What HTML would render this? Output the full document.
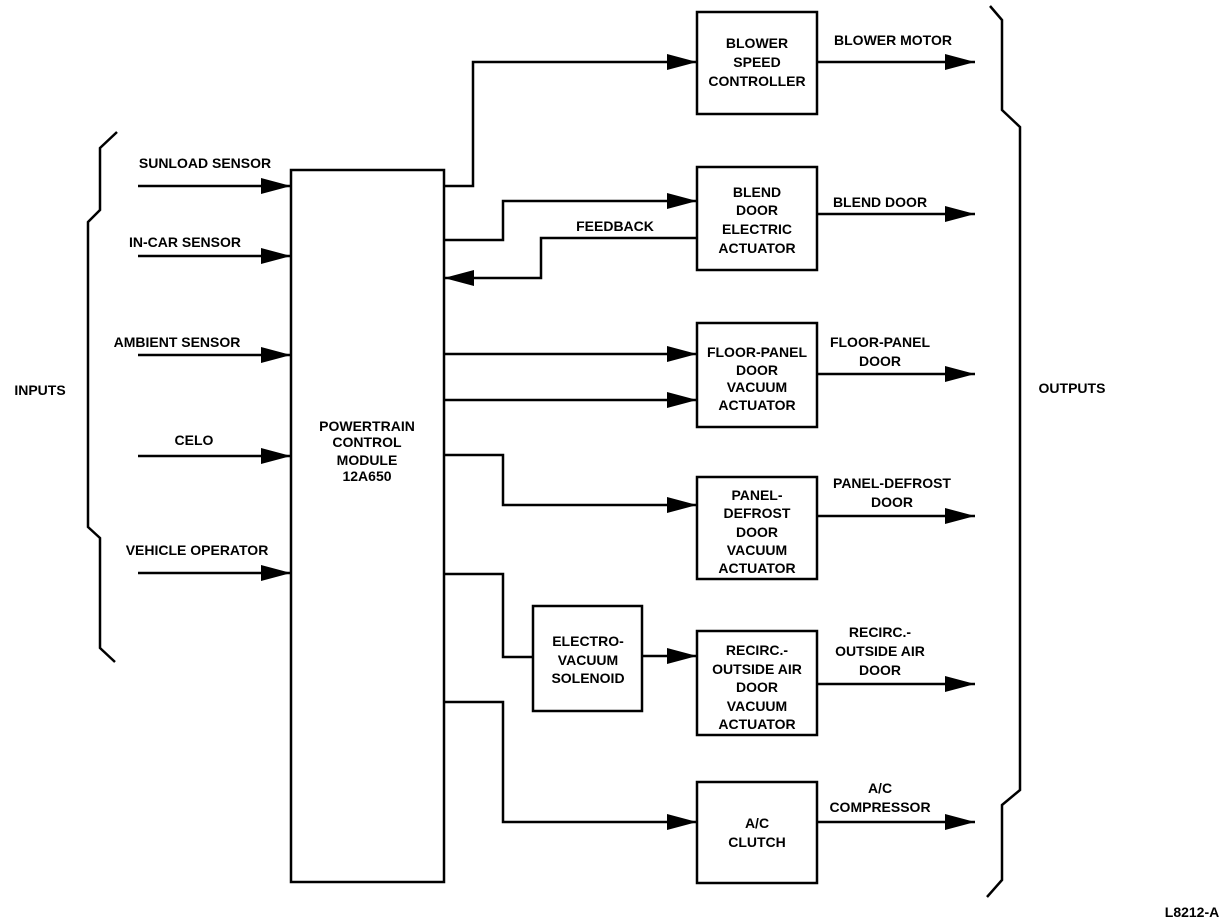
<!DOCTYPE html>
<html><head><meta charset="utf-8"><style>
html,body{margin:0;padding:0;background:#fff}
svg{display:block}
text{font-family:"Liberation Sans",sans-serif;font-size:14px;font-weight:bold;fill:#000;text-anchor:middle}
</style></head><body>
<svg width="1232" height="924" viewBox="0 0 1232 924" xmlns="http://www.w3.org/2000/svg">
<defs>
<marker id="a" markerUnits="userSpaceOnUse" markerWidth="32" markerHeight="20" refX="30" refY="10" orient="auto">
<path d="M0,2 L30,10 L0,18 Z" fill="#000"/>
</marker>
</defs>
<g fill="none" stroke="#000" stroke-width="2.5">
<polyline points="117,132 100,148 100,210 88,222 88,527 100,538 100,648 115,662"/>
<polyline points="990,6 1002,20 1002,110 1020,127 1020,790 1002,805 1002,880 987,897"/>
<rect x="291" y="170" width="153" height="712"/>
<rect x="697" y="12" width="120" height="102"/>
<rect x="697" y="167" width="120" height="103"/>
<rect x="697" y="323" width="120" height="104"/>
<rect x="697" y="477" width="120" height="102"/>
<rect x="697" y="631" width="120" height="104"/>
<rect x="533" y="606" width="109" height="105"/>
<rect x="697" y="782" width="120" height="101"/>
</g>
<g fill="none" stroke="#000" stroke-width="2.5" marker-end="url(#a)">
<line x1="138" y1="186" x2="291" y2="186"/>
<line x1="138" y1="256" x2="291" y2="256"/>
<line x1="138" y1="355" x2="291" y2="355"/>
<line x1="138" y1="456" x2="291" y2="456"/>
<line x1="138" y1="573" x2="291" y2="573"/>
<polyline points="444,186 473,186 473,62 697,62"/>
<polyline points="444,240 503,240 503,201 697,201"/>
<polyline points="697,238 541,238 541,278 444,278"/>
<line x1="444" y1="354" x2="697" y2="354"/>
<line x1="444" y1="400" x2="697" y2="400"/>
<polyline points="444,455 503,455 503,505 697,505"/>
<polyline points="642,656 697,656"/>
<polyline points="444,702 503,702 503,822 697,822"/>
<line x1="817" y1="62" x2="975" y2="62"/>
<line x1="817" y1="214" x2="975" y2="214"/>
<line x1="817" y1="374" x2="975" y2="374"/>
<line x1="817" y1="516" x2="975" y2="516"/>
<line x1="817" y1="684" x2="975" y2="684"/>
<line x1="817" y1="822" x2="975" y2="822"/>
</g>
<polyline points="444,574 503,574 503,657 533,657" fill="none" stroke="#000" stroke-width="2.5"/>
<text x="40" y="395">INPUTS</text>
<text x="1072" y="393">OUTPUTS</text>
<text x="205" y="168">SUNLOAD SENSOR</text>
<text x="185" y="247">IN-CAR SENSOR</text>
<text x="177" y="347">AMBIENT SENSOR</text>
<text x="194" y="445">CELO</text>
<text x="197" y="555">VEHICLE OPERATOR</text>
<text x="367" y="431">POWERTRAIN</text>
<text x="367" y="447">CONTROL</text>
<text x="367" y="465">MODULE</text>
<text x="367" y="481">12A650</text>
<text x="757" y="48">BLOWER</text>
<text x="757" y="67">SPEED</text>
<text x="757" y="86">CONTROLLER</text>
<text x="893" y="45">BLOWER MOTOR</text>
<text x="757" y="197">BLEND</text>
<text x="757" y="215">DOOR</text>
<text x="757" y="234">ELECTRIC</text>
<text x="757" y="253">ACTUATOR</text>
<text x="880" y="207">BLEND DOOR</text>
<text x="615" y="231">FEEDBACK</text>
<text x="757" y="357">FLOOR-PANEL</text>
<text x="757" y="375">DOOR</text>
<text x="757" y="392">VACUUM</text>
<text x="757" y="410">ACTUATOR</text>
<text x="880" y="347">FLOOR-PANEL</text>
<text x="880" y="366">DOOR</text>
<text x="757" y="500">PANEL-</text>
<text x="757" y="518">DEFROST</text>
<text x="757" y="537">DOOR</text>
<text x="757" y="555">VACUUM</text>
<text x="757" y="573">ACTUATOR</text>
<text x="892" y="488">PANEL-DEFROST</text>
<text x="892" y="507">DOOR</text>
<text x="588" y="646">ELECTRO-</text>
<text x="588" y="665">VACUUM</text>
<text x="588" y="683">SOLENOID</text>
<text x="757" y="655">RECIRC.-</text>
<text x="757" y="674">OUTSIDE AIR</text>
<text x="757" y="692">DOOR</text>
<text x="757" y="711">VACUUM</text>
<text x="757" y="729">ACTUATOR</text>
<text x="880" y="637">RECIRC.-</text>
<text x="880" y="656">OUTSIDE AIR</text>
<text x="880" y="675">DOOR</text>
<text x="757" y="828">A/C</text>
<text x="757" y="847">CLUTCH</text>
<text x="880" y="793">A/C</text>
<text x="880" y="812">COMPRESSOR</text>
<text x="1192" y="917">L8212-A</text>
</svg>
</body></html>
